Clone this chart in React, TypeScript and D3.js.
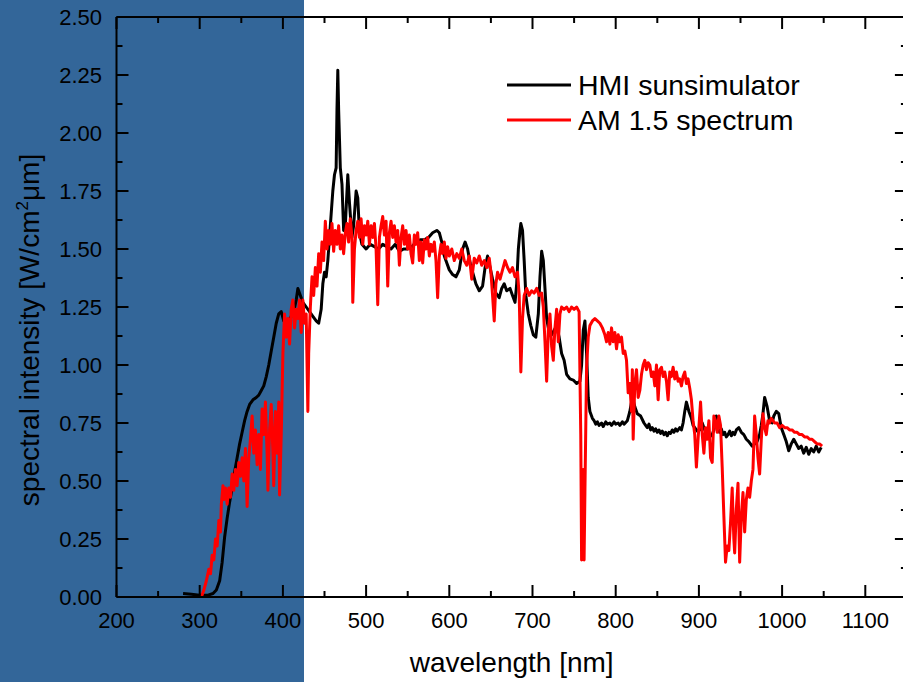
import React from "react";
import * as d3 from "d3";

const hmiWavelength = [280,290,300,310,316,320,324,327,330,333,336,339,342,345,348,351,354,357,360,364,368,371,374,377,380,383,386,389,392,395,398,401,404,407,410,413,416,418,421,424,428,432,436,440,443,446,448,450,452,454,456,458,460,462,464,465,466,467,469,471,473,475,478,480,483,485,488,490,492,495,500,505,510,515,520,525,530,535,540,545,550,555,560,565,570,575,580,585,588,591,594,597,600,604,608,612,616,619,622,625,628,632,636,640,643,646,649,652,656,660,663,666,669,673,676,679,681,683,685,686,688,690,692,695,698,701,704,707,709,711,713,715,717,720,723,726,729,732,735,738,741,745,749,753,757,759,761,763,765,767,769,772,774,776,778,780,783,785,788,790,793,795,798,800,803,805,808,810,814,817,819,821,823,826,830,834,836,838,840,842,844,846,848,850,852,854,856,858,860,862,864,866,868,870,872,874,877,879,881,883,885,888,891,893,895,898,901,904,907,910,913,916,918,921,923,925,927,929,931,933,935,937,939,941,943,945,948,951,954,957,960,964,967,970,973,975,977,979,982,985,988,990,993,996,999,1002,1005,1008,1011,1014,1017,1020,1023,1026,1029,1032,1035,1038,1041,1044,1047];
const hmiValue = [0.015,0.012,0.008,0.008,0.015,0.03,0.07,0.15,0.26,0.34,0.41,0.47,0.54,0.6,0.66,0.71,0.76,0.8,0.83,0.85,0.86,0.87,0.89,0.91,0.95,1.0,1.06,1.12,1.18,1.22,1.23,1.19,1.18,1.19,1.21,1.23,1.28,1.33,1.3,1.27,1.25,1.23,1.21,1.19,1.18,1.24,1.35,1.4,1.38,1.45,1.55,1.65,1.75,1.82,1.85,2.1,2.27,2.1,1.85,1.78,1.58,1.6,1.82,1.7,1.55,1.6,1.75,1.72,1.57,1.52,1.5,1.52,1.51,1.5,1.52,1.51,1.5,1.52,1.49,1.5,1.5,1.51,1.53,1.54,1.54,1.55,1.57,1.58,1.57,1.53,1.47,1.44,1.41,1.39,1.38,1.41,1.5,1.53,1.5,1.44,1.4,1.35,1.32,1.34,1.42,1.47,1.42,1.37,1.31,1.29,1.33,1.35,1.32,1.33,1.3,1.27,1.35,1.5,1.58,1.61,1.58,1.45,1.3,1.22,1.17,1.13,1.12,1.22,1.38,1.49,1.45,1.33,1.2,1.14,1.13,1.15,1.17,1.12,1.05,1.02,0.96,0.94,0.935,0.92,0.93,1.0,1.15,1.19,1.05,0.86,0.8,0.77,0.76,0.745,0.755,0.74,0.75,0.735,0.755,0.745,0.75,0.74,0.755,0.745,0.75,0.74,0.755,0.745,0.76,0.8,0.84,0.85,0.82,0.79,0.78,0.75,0.74,0.73,0.745,0.72,0.73,0.715,0.725,0.71,0.72,0.705,0.715,0.70,0.71,0.695,0.71,0.705,0.72,0.71,0.725,0.715,0.73,0.72,0.75,0.8,0.84,0.8,0.77,0.74,0.73,0.715,0.72,0.75,0.72,0.71,0.69,0.7,0.72,0.78,0.74,0.71,0.725,0.70,0.71,0.69,0.70,0.715,0.695,0.71,0.70,0.72,0.73,0.71,0.7,0.68,0.67,0.65,0.66,0.67,0.7,0.74,0.79,0.86,0.82,0.76,0.75,0.78,0.8,0.79,0.73,0.7,0.67,0.63,0.66,0.68,0.66,0.64,0.65,0.62,0.645,0.615,0.64,0.625,0.65,0.625,0.645,0.63,0.64];

const amWavelength = [302,305,308,311,313,315,317,319,321,323,325,326,328,329,331,333,335,337,339,341,343,345,347,349,351,353,355,357,359,361,363,365,367,369,371,373,375,377,379,381,382,384,386,388,389,391,393,395,396,398,400,402,404,406,408,410,412,414,416,418,420,422,424,426,428,430,431,433,435,437,439,441,443,445,447,449,451,453,455,457,459,461,463,465,467,469,471,473,475,477,479,481,483,484,486,488,490,492,494,496,498,500,502,504,506,508,510,512,514,516,518,520,522,524,526,528,530,532,534,536,538,540,542,544,546,548,550,552,554,556,558,560,562,564,566,568,570,572,574,576,578,580,582,584,586,588,590,592,594,596,598,600,603,606,609,612,615,618,621,624,627,630,633,636,639,642,645,648,650,652,654,656,658,661,664,667,670,673,676,679,682,684,686,688,690,693,696,699,702,705,708,711,713,715,717,719,721,723,725,727,729,731,733,735,738,741,744,747,750,753,756,758,759,760,761,762,763,765,767,769,772,775,778,781,784,787,789,791,793,795,797,799,801,803,805,807,809,811,813,815,817,819,820,821,823,825,827,829,831,833,835,837,839,841,843,845,847,849,851,853,855,857,859,861,863,865,867,869,871,873,875,877,879,881,883,885,887,889,891,893,895,897,899,902,904,906,908,910,912,914,916,918,920,922,924,926,928,930,932,934,936,938,940,942,943,945,947,949,951,953,955,957,959,961,963,965,967,969,971,973,975,977,979,981,983,985,987,989,991,994,997,1000,1003,1006,1009,1012,1015,1018,1021,1024,1027,1030,1033,1036,1039,1042,1045,1048];
const amValue = [0,0.03,0.07,0.12,0.1,0.18,0.16,0.25,0.22,0.33,0.28,0.4,0.48,0.42,0.47,0.4,0.47,0.43,0.53,0.46,0.55,0.48,0.58,0.52,0.6,0.5,0.64,0.39,0.6,0.68,0.78,0.62,0.72,0.57,0.7,0.55,0.81,0.7,0.84,0.62,0.46,0.72,0.83,0.62,0.48,0.8,0.62,0.84,0.44,0.7,1.05,1.22,1.12,1.2,1.09,1.24,1.28,1.16,1.24,1.2,1.28,1.14,1.28,1.18,1.22,0.8,1.05,1.25,1.38,1.3,1.42,1.34,1.48,1.4,1.53,1.45,1.62,1.5,1.58,1.52,1.61,1.49,1.58,1.52,1.6,1.5,1.56,1.48,1.57,1.61,1.53,1.63,1.55,1.27,1.5,1.58,1.62,1.55,1.63,1.52,1.6,1.56,1.62,1.52,1.6,1.55,1.61,1.5,1.26,1.55,1.6,1.64,1.56,1.62,1.34,1.57,1.62,1.55,1.6,1.53,1.58,1.43,1.55,1.6,1.52,1.58,1.5,1.56,1.48,1.44,1.56,1.52,1.57,1.45,1.53,1.44,1.54,1.5,1.55,1.47,1.52,1.49,1.53,1.45,1.29,1.47,1.52,1.48,1.53,1.46,1.51,1.47,1.5,1.45,1.48,1.46,1.5,1.45,1.43,1.47,1.37,1.46,1.44,1.47,1.43,1.45,1.42,1.46,1.4,1.3,1.19,1.35,1.4,1.37,1.41,1.45,1.42,1.4,1.42,1.38,1.4,1.3,0.97,1.2,1.3,1.33,1.3,1.32,1.31,1.33,1.3,1.31,1.25,1.1,0.93,1.15,1.22,1.08,1.02,1.16,1.24,1.1,1.22,1.25,1.24,1.25,1.23,1.25,1.24,1.25,1.23,0.7,0.16,0.4,0.55,0.16,0.45,0.99,1.12,1.17,1.19,1.2,1.19,1.18,1.16,1.13,1.1,1.14,1.09,1.16,1.1,1.14,1.07,1.13,1.1,1.12,1.05,1.06,1.02,0.88,0.92,0.8,0.98,0.68,0.92,0.98,0.86,0.89,0.96,1.0,1.02,0.98,1.01,1.0,0.95,0.97,0.91,1.0,0.85,0.98,0.99,0.95,0.97,0.93,0.85,0.97,0.95,0.99,0.94,0.97,0.93,0.94,0.91,0.95,0.97,0.92,0.94,0.9,0.85,0.76,0.7,0.56,0.68,0.84,0.7,0.62,0.73,0.68,0.76,0.6,0.58,0.78,0.76,0.71,0.78,0.74,0.56,0.35,0.15,0.22,0.2,0.32,0.47,0.25,0.19,0.38,0.49,0.15,0.35,0.45,0.28,0.42,0.47,0.43,0.5,0.55,0.78,0.7,0.6,0.53,0.68,0.79,0.73,0.7,0.76,0.75,0.77,0.76,0.75,0.75,0.73,0.74,0.73,0.73,0.72,0.72,0.71,0.71,0.7,0.7,0.69,0.69,0.68,0.68,0.67,0.66,0.66,0.65];

const xMajorTicks = [200, 300, 400, 500, 600, 700, 800, 900, 1000, 1100];
const yMajorTicks = [0, 0.25, 0.5, 0.75, 1.0, 1.25, 1.5, 1.75, 2.0, 2.25, 2.5];
const legendLabels = ["HMI sunsimulator", "AM 1.5 spectrum"];
const xTitle = "wavelength [nm]";

const W = 903;
const H = 682;
const left = 116.5;
const top = 17;
const bottom = 597;
const pxPer100 = 83.2;
const xMax = 1150;
const right = left + ((xMax - 200) / 100) * pxPer100;

const FONT = "'Liberation Sans', Arial, sans-serif";

export default function App() {
  const x = d3.scaleLinear().domain([200, xMax]).range([left, right]);
  const y = d3.scaleLinear().domain([0, 2.5]).range([bottom, top]);

  const line = d3
    .line<[number, number]>()
    .x((d) => x(d[0]))
    .y((d) => y(d[1]));

  const hmi: [number, number][] = hmiWavelength.map((w, i) => [w, hmiValue[i]]);
  const am: [number, number][] = amWavelength.map((w, i) => [w, amValue[i]]);

  const xMinor = d3.range(250, xMax, 100);
  const yMinor = d3.range(0.125, 2.5, 0.25);
  const majorLen = 12;
  const minorLen = 6;

  return (
    <svg
      width={W}
      height={H}
      style={{ position: "absolute", left: 0, top: 0, display: "block" }}
      fontFamily={FONT}
    >
      <rect x={0} y={0} width={W} height={H} fill="#ffffff" />
      <rect x={0} y={0} width={304} height={H} fill="#336699" />

      <defs>
        <clipPath id="plotclip">
          <rect x={left} y={top} width={right - left} height={bottom - top} />
        </clipPath>
      </defs>

      {/* data lines */}
      <g clipPath="url(#plotclip)">
        <path d={line(hmi) || ""} fill="none" stroke="#000000" strokeWidth={3} strokeLinejoin="round" />
        <path d={line(am) || ""} fill="none" stroke="#ff0000" strokeWidth={3} strokeLinejoin="round" />
      </g>

      {/* frame */}
      <g stroke="#000" strokeWidth={2} fill="none">
        <line x1={left} y1={bottom} x2={right} y2={bottom} />
        <line x1={left} y1={top} x2={right} y2={top} />
        <line x1={left} y1={top} x2={left} y2={bottom} />
        <line x1={right} y1={top} x2={right} y2={bottom} />
        {xMajorTicks.map((t) => (
          <g key={"xm" + t}>
            <line x1={x(t)} x2={x(t)} y1={bottom} y2={bottom - majorLen} />
            <line x1={x(t)} x2={x(t)} y1={top} y2={top + majorLen} />
          </g>
        ))}
        {xMinor.map((t) => (
          <g key={"xn" + t}>
            <line x1={x(t)} x2={x(t)} y1={bottom} y2={bottom - minorLen} />
            <line x1={x(t)} x2={x(t)} y1={top} y2={top + minorLen} />
          </g>
        ))}
        {yMajorTicks.map((t) => (
          <g key={"ym" + t}>
            <line x1={left} x2={left + majorLen} y1={y(t)} y2={y(t)} />
            <line x1={right} x2={right - majorLen} y1={y(t)} y2={y(t)} />
          </g>
        ))}
        {yMinor.map((t) => (
          <g key={"yn" + t}>
            <line x1={left} x2={left + minorLen} y1={y(t)} y2={y(t)} />
            <line x1={right} x2={right - minorLen} y1={y(t)} y2={y(t)} />
          </g>
        ))}
      </g>

      {/* tick labels */}
      <g fontSize={22} fill="#000">
        {xMajorTicks.map((t) => (
          <text key={"xl" + t} x={x(t)} y={628} textAnchor="middle">
            {t}
          </text>
        ))}
        {yMajorTicks.map((t) => (
          <text key={"yl" + t} x={102} y={y(t) + 8} textAnchor="end">
            {d3.format(".2f")(t)}
          </text>
        ))}
      </g>

      {/* axis titles */}
      <text x={(left + right) / 2} y={672} textAnchor="middle" fontSize={28} fill="#000">
        {xTitle}
      </text>
      <text
        transform={`translate(39, 330) rotate(-90)`}
        textAnchor="middle"
        fontSize={28}
        fill="#000"
      >
        spectral intensity [W/cm
        <tspan fontSize={17} dy={-11}>2</tspan>
        <tspan dy={11}>μm]</tspan>
      </text>

      {/* legend */}
      <g>
        <line x1={507} x2={571} y1={85} y2={85} stroke="#000" strokeWidth={3} />
        <text x={578} y={95} fontSize={28.5} fill="#000">{legendLabels[0]}</text>
        <line x1={507} x2={571} y1={120} y2={120} stroke="#ff0000" strokeWidth={3} />
        <text x={578} y={130} fontSize={28.5} fill="#000">{legendLabels[1]}</text>
      </g>
    </svg>
  );
}
